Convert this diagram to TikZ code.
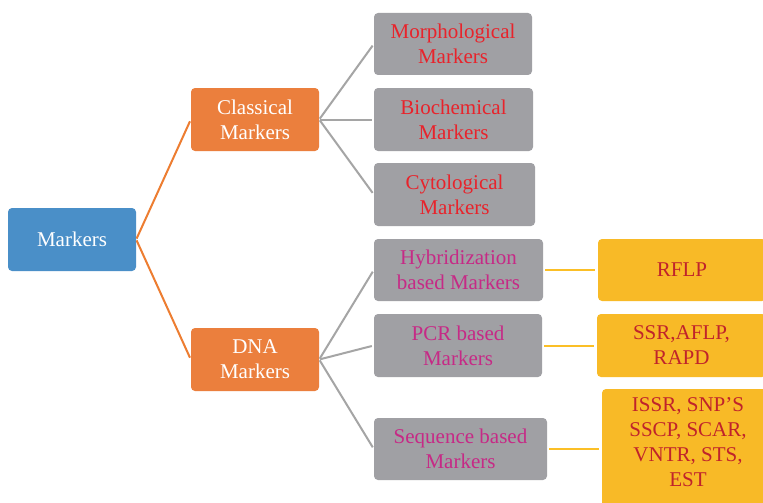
\documentclass[tikz,border=0pt]{standalone}
\usepackage{fontspec}
\setmainfont{Liberation Serif}
\definecolor{boxblue}{HTML}{4A8FC8}
\definecolor{boxorange}{HTML}{EB7F3D}
\definecolor{boxgray}{HTML}{A0A0A4}
\definecolor{boxyellow}{HTML}{F8BA27}
\definecolor{txtred}{HTML}{E8232B}
\definecolor{txtmagenta}{HTML}{C62A86}
\definecolor{txtdark}{HTML}{C0232B}
\definecolor{lineorange}{HTML}{ED7D31}
\definecolor{linegray}{HTML}{A5A5A5}
\definecolor{lineyellow}{HTML}{FBBF26}
\tikzset{
  card/.style n args={2}{draw=none, rounded corners=4pt, inner sep=0pt,
    align=center, minimum width=#1pt, minimum height=#2pt,
    font=\fontsize{21}{25}\selectfont},
  rootbox/.style={fill=boxblue, text=white},
  mainbox/.style={fill=boxorange, text=white},
  classbox/.style={fill=boxgray, text=txtred},
  dnabox/.style={fill=boxgray, text=txtmagenta},
  leafbox/.style={fill=boxyellow, text=txtdark},
  orangelink/.style={draw=lineorange, line width=2pt, shorten <=1pt, shorten >=2pt},
  graylink/.style={draw=linegray, line width=2pt, shorten <=1pt, shorten >=2pt},
  yellowlink/.style={draw=lineyellow, line width=2pt, shorten <=2pt, shorten >=3pt},
}
\begin{document}
\begin{tikzpicture}[x=1pt, y=-1pt]
\clip (0,0) rectangle (763,503);
\fill[white] (0,0) rectangle (763,503);

% root and first level
\node[card={128}{63}, rootbox] (markers) at (72,239.5) {Markers};
\node[card={128}{63}, mainbox] (classical) at (255,119.5) {Classical\\Markers};
\node[card={128}{63}, mainbox] (dna) at (255,359.5) {DNA\\Markers};

% classical markers
\node[card={158}{62}, classbox] (morph) at (453,44) {Morphological\\Markers};
\node[card={159}{63}, classbox] (bio) at (453.5,119.5) {Biochemical\\Markers};
\node[card={161}{63}, classbox] (cyto) at (454.5,194.5) {Cytological\\Markers};

% DNA markers
\node[card={169}{62}, dnabox] (hyb) at (458.5,270) {Hybridization\\based Markers};
\node[card={168}{63}, dnabox] (pcr) at (458,345.5) {PCR based\\Markers};
\node[card={173}{62}, dnabox] (seq) at (460.5,449) {Sequence based\\Markers};

% marker techniques
\node[card={168}{62}, leafbox] (rflp) at (682,270) {RFLP};
\node[card={169}{63}, leafbox] (ssr) at (681.5,345.5) {SSR,AFLP,\\RAPD};
% the last card runs past the lower edge; its text sits above the card's centre
\node[card={172}{124}, leafbox] (issr) at (688,451) {};
\node[card={172}{106}, text=txtdark] (issrtext) at (688,442) {ISSR, SNP'S\\SSCP, SCAR,\\VNTR, STS,\\EST};

% connectors
\draw[orangelink] (markers.east) -- (classical.west);
\draw[orangelink] (markers.east) -- (dna.west);
\foreach \t in {morph,bio,cyto} \draw[graylink] (classical.east) -- (\t.west);
\foreach \t in {hyb,pcr,seq} \draw[graylink] (dna.east) -- (\t.west);
\draw[yellowlink] (hyb.east) -- (rflp.west);
\draw[yellowlink] (pcr.east) -- (ssr.west);
\draw[yellowlink] (seq.east) -- (issr.west |- seq.east);
\end{tikzpicture}
\end{document}
